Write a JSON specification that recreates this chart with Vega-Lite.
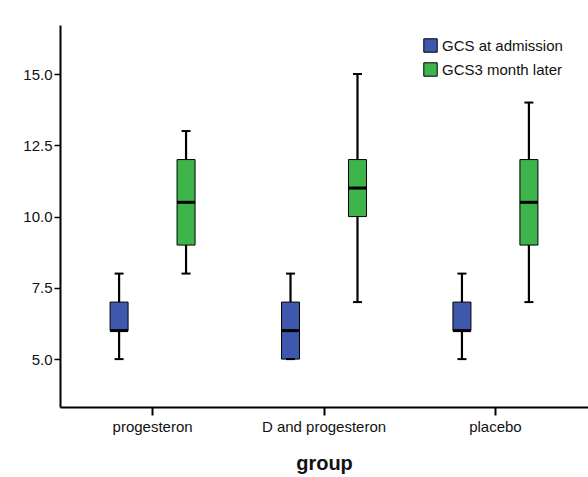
{
  "$schema": "https://vega.github.io/schema/vega-lite/v6.json",
  "width": 528,
  "height": 382,
  "autosize": {"type": "none"},
  "padding": {"left": 60, "top": 25, "right": 0, "bottom": 70},
  "background": "white",
  "config": {
    "view": {"stroke": null},
    "font": "Liberation Sans",
    "axis": {"grid": false, "domainColor": "black", "tickColor": "black", "labelColor": "#111111", "titleColor": "#111111"}
  },
  "data": {
    "values": [
      {"group": "progesteron", "measure": "GCS at admission", "min": 5, "q1": 6, "median": 6, "q3": 7, "max": 8},
      {"group": "progesteron", "measure": "GCS3 month later", "min": 8, "q1": 9, "median": 10.5, "q3": 12, "max": 13},
      {"group": "D and progesteron", "measure": "GCS at admission", "min": 5, "q1": 5, "median": 6, "q3": 7, "max": 8},
      {"group": "D and progesteron", "measure": "GCS3 month later", "min": 7, "q1": 10, "median": 11, "q3": 12, "max": 15},
      {"group": "placebo", "measure": "GCS at admission", "min": 5, "q1": 6, "median": 6, "q3": 7, "max": 8},
      {"group": "placebo", "measure": "GCS3 month later", "min": 7, "q1": 9, "median": 10.5, "q3": 12, "max": 14}
    ]
  },
  "encoding": {
    "x": {
      "field": "group",
      "type": "nominal",
      "sort": ["progesteron", "D and progesteron", "placebo"],
      "scale": {"paddingInner": 0, "paddingOuter": 0.04},
      "axis": {
        "title": "group",
        "titleFontSize": 20,
        "titleFontWeight": "bold",
        "titlePadding": 19,
        "labelFontSize": 15,
        "labelAngle": 0,
        "labelPadding": 4,
        "tickSize": 8,
        "tickWidth": 2,
        "domainWidth": 2
      }
    },
    "xOffset": {
      "field": "measure",
      "type": "nominal",
      "sort": ["GCS at admission", "GCS3 month later"],
      "scale": {"paddingInner": 0, "paddingOuter": 0.28}
    }
  },
  "layer": [
    {
      "mark": {"type": "rule", "color": "black", "strokeWidth": 2.2},
      "encoding": {
        "y": {
          "field": "min",
          "type": "quantitative",
          "title": null,
          "scale": {"domain": [3.32, 16.72], "nice": false, "zero": false},
          "axis": {
            "values": [5, 7.5, 10, 12.5, 15],
            "format": ".1f",
            "labelFontSize": 15,
            "tickSize": 6,
            "tickWidth": 1.5,
            "labelPadding": 2,
            "domainWidth": 2
          }
        },
        "y2": {"field": "max"}
      }
    },
    {
      "mark": {"type": "bar", "size": 18, "stroke": "black", "strokeWidth": 1},
      "encoding": {
        "y": {"field": "q1", "type": "quantitative", "title": null},
        "y2": {"field": "q3"},
        "color": {
          "field": "measure",
          "type": "nominal",
          "sort": ["GCS at admission", "GCS3 month later"],
          "scale": {"range": ["#3E58AC", "#3DB54A"]},
          "legend": {
            "title": null,
            "orient": "none",
            "legendX": 363,
            "legendY": 13,
            "labelFontSize": 15,
            "labelColor": "#111111",
            "symbolType": "square",
            "symbolSize": 180,
            "symbolStrokeColor": "black",
            "symbolStrokeWidth": 1,
            "symbolOpacity": 1,
            "rowPadding": 5,
            "labelOffset": 4
          }
        }
      }
    },
    {
      "mark": {"type": "tick", "color": "black", "thickness": 3, "size": 18, "opacity": 1},
      "encoding": {"y": {"field": "median", "type": "quantitative", "title": null}}
    },
    {
      "mark": {"type": "tick", "color": "black", "thickness": 2, "size": 9, "opacity": 1},
      "encoding": {"y": {"field": "min", "type": "quantitative", "title": null}}
    },
    {
      "mark": {"type": "tick", "color": "black", "thickness": 2, "size": 9, "opacity": 1},
      "encoding": {"y": {"field": "max", "type": "quantitative", "title": null}}
    }
  ]
}
